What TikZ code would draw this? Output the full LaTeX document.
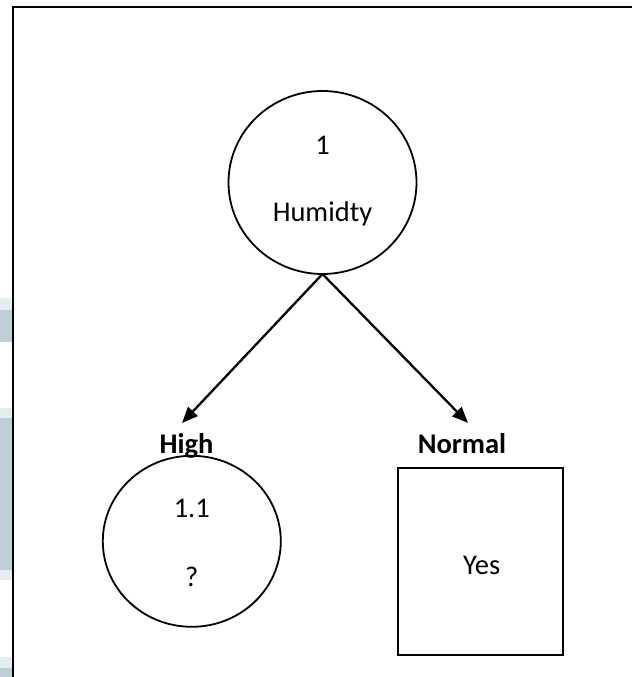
\documentclass[tikz,border=0pt]{standalone}
\usepackage{fontspec}
\setmainfont{Carlito}
\usetikzlibrary{shapes.geometric,arrows.meta}
\definecolor{stripdark}{RGB}{190,208,215}
\definecolor{striplight}{RGB}{228,238,241}
\tikzset{
  txt/.style={font=\fontsize{28.5}{34}\selectfont, inner sep=0pt, anchor=base},
  btxt/.style={txt, font=\fontsize{28.5}{34}\selectfont\bfseries},
  circ/.style={ellipse, draw, line width=1.8pt, inner sep=0pt, outer sep=0pt},
  leafbox/.style={rectangle, draw, line width=1.8pt, inner sep=0pt, outer sep=0pt},
  arr/.style={line width=2.3pt, -{Triangle[length=16pt,width=13pt]}},
  frameline/.style={line width=2pt}
}
\begin{document}
\begin{tikzpicture}[x=1pt,y=-1pt]
\useasboundingbox (0,0) rectangle (632,677);
\fill[white] (0,0) rectangle (632,677);
% left screenshot strip
\fill[striplight] (0,298) rectangle (11.5,310);
\fill[stripdark] (0,310) rectangle (11.5,342);
\fill[striplight] (0,408) rectangle (11.5,418);
\fill[stripdark] (0,418) rectangle (11.5,570);
\fill[striplight] (0,570) rectangle (11.5,580);
\fill[striplight] (0,657) rectangle (11.5,668);
\fill[stripdark] (0,668) rectangle (11.5,677);
% frame
\coordinate (fbl) at (12.5,677);
\coordinate (ftl) at (12.5,7.5);
\coordinate (ftr) at (632,7.5);
\draw[frameline] (fbl) -- (ftl) -- (ftr);
% root
\node[circ, minimum width=188, minimum height=183] (root) at (322.5,182.5) {};
\node[txt] (rootnum) at (322.5,154) {1};
\node[txt] (rootname) at (322.5,221.7) {Humidty};
% left child
\node[circ, minimum width=178, minimum height=171] (left) at (191.8,541.3) {};
\node[txt] (leftnum) at (191.8,517) {1.1};
\node[txt] (leftq) at (191.8,586) {?};
\node[btxt] (high) at (186.5,453) {High};
% right child
\node[leafbox, minimum width=165, minimum height=187] (right) at (480.8,561.7) {};
\node[txt] (yes) at (481.7,574.5) {Yes};
\node[btxt] (normal) at (462,453) {Normal};
% arrows
\coordinate (htip) at (182,423);
\coordinate (ntip) at (468,423);
\draw[arr] (root.south) -- (htip);
\draw[arr] (root.south) -- (ntip);
\end{tikzpicture}
\end{document}
